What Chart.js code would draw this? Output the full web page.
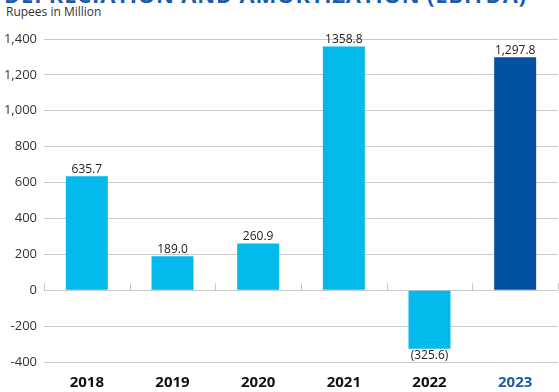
<!DOCTYPE html>
<html>
<head>
<meta charset="utf-8">
<script src="https://cdn.jsdelivr.net/npm/chart.js@4"></script>
<style>
  html, body { margin: 0; padding: 0; background: #fff; }
  .wrap { position: relative; width: 559px; height: 392px; overflow: hidden; }
  .heading {
    position: absolute; left: 4px; top: -17px; margin: 0;
    font: 700 22px "Open Sans", sans-serif; line-height: 22px;
    color: #1b5ba8; white-space: nowrap; letter-spacing: 0.8px;
  }
  .unit {
    position: absolute; left: 6px; top: 3px;
    font: 12px "Open Sans", sans-serif; color: #333;
  }
  canvas { position: absolute; left: 0; top: 0; }
</style>
</head>
<body>
<div class="wrap">
  <h2 class="heading">DEPRECIATION AND AMORTIZATION (EBITDA)</h2>
  <div class="unit">Rupees in Million</div>
  <canvas id="chart" width="559" height="392"></canvas>
</div>
<script>
// EBITDA 연도별 (백만 루피)
const YEARS = ["2018", "2019", "2020", "2021", "2022", "2023"];
const EBITDA = [635.7, 189.0, 260.9, 1358.8, -325.6, 1297.8];
const VALUE_LABELS = ["635.7", "189.0", "260.9", "1358.8", "(325.6)", "1,297.8"];
const Y_TICKS = [-400, -200, 0, 200, 400, 600, 800, 1000, 1200, 1400];

const CYAN = "#04b9ec";
const NAVY = "#0052a0";
const GRID = "#c9c9c9";
const FONT = '"Open Sans", sans-serif';

const barColors = YEARS.map((_, i) => (i === YEARS.length - 1 ? NAVY : CYAN));

// 막대 위(음수는 아래)에 값 표기
const valueLabels = {
  id: "valueLabels",
  afterDatasetsDraw(chart) {
    const { ctx } = chart;
    const meta = chart.getDatasetMeta(0);
    ctx.save();
    ctx.font = "12px " + FONT;
    ctx.fillStyle = "#222";
    ctx.textAlign = "center";
    meta.data.forEach((bar, i) => {
      if (EBITDA[i] >= 0) {
        ctx.textBaseline = "bottom";
        ctx.fillText(VALUE_LABELS[i], bar.x, bar.y - 1);
      } else {
        ctx.textBaseline = "top";
        ctx.fillText(VALUE_LABELS[i], bar.x, bar.y + 1);
      }
    });
    ctx.restore();
  },
};

// 0 기준선 위 카테고리 경계 눈금
const zeroTicks = {
  id: "zeroTicks",
  afterDatasetsDraw(chart) {
    const { ctx, scales: { x, y } } = chart;
    const y0 = y.getPixelForValue(0);
    const half = (x.getPixelForValue(1) - x.getPixelForValue(0)) / 2;
    ctx.save();
    ctx.strokeStyle = GRID;
    ctx.lineWidth = 1;
    ctx.beginPath();
    for (let i = 0; i <= YEARS.length; i++) {
      const px = Math.round(x.getPixelForValue(i) - half) + 0.5;
      ctx.moveTo(px, y0);
      ctx.lineTo(px, y0 - 7);
    }
    ctx.stroke();
    ctx.restore();
  },
};

new Chart(document.getElementById("chart"), {
  type: "bar",
  data: {
    labels: YEARS,
    datasets: [{
      data: EBITDA,
      backgroundColor: barColors,
      borderWidth: 0,
      categoryPercentage: 1,
      barPercentage: 0.49,
    }],
  },
  options: {
    responsive: false,
    animation: false,
    layout: { padding: { top: 39, right: 1, left: 0, bottom: 0 } },
    plugins: { legend: { display: false }, tooltip: { enabled: false } },
    scales: {
      x: {
        grid: { display: false },
        border: { display: false },
        afterFit: (axis) => { axis.height = 30; },
        ticks: {
          padding: 4,
          font: { family: FONT, size: 15, weight: "bold" },
          color: (c) => (c.index === YEARS.length - 1 ? "#1b5ba8" : "#111"),
        },
      },
      y: {
        min: Y_TICKS[0],
        max: Y_TICKS[Y_TICKS.length - 1],
        afterBuildTicks: (axis) => { axis.ticks = Y_TICKS.map((v) => ({ value: v })); },
        afterFit: (axis) => { axis.width = 44; },
        grid: { color: GRID, drawTicks: false, lineWidth: 1 },
        border: { display: false },
        ticks: {
          padding: 7,
          font: { family: FONT, size: 13 },
          color: "#333",
          callback: (v) => v.toLocaleString("en-US"),
        },
      },
    },
  },
  plugins: [valueLabels, zeroTicks],
});
</script>
</body>
</html>
